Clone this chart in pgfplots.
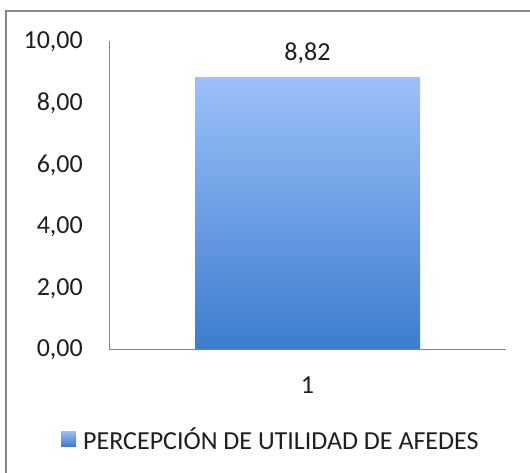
\documentclass[border=0pt]{standalone}
\usepackage{fontspec}
\setmainfont{Carlito}
\usepackage{pgfplots}
\pgfplotsset{compat=1.18}
\definecolor{bartop}{RGB}{156,193,251}
\definecolor{barbot}{RGB}{60,124,205}
\definecolor{axgray}{RGB}{134,134,134}
\definecolor{frame}{RGB}{135,135,135}
\definecolor{txt}{RGB}{30,30,30}
\newcommand{\bigf}{\fontsize{26bp}{30bp}\selectfont}
\begin{document}
\begin{tikzpicture}
\path[use as bounding box] (0,0) rectangle (530bp,473bp);
\draw[frame, line width=1.6bp] (6bp,-2bp) -- (6bp,462bp) -- (532bp,462bp);
\begin{axis}[
  at={(109bp,124bp)}, anchor=south west,
  scale only axis, width=397bp, height=308bp,
  xmin=0.5, xmax=1.5, ymin=0, ymax=10,
  axis x line=bottom, axis y line=left,
  axis line style={-, axgray, line width=0.8bp},
  major tick length=0pt,
  xtick={1}, xticklabels={1},
  ytick={0,2,4,6,8,10},
  /pgf/number format/.cd, fixed, fixed zerofill, precision=2, use comma, assume math mode=true, 1000 sep={},
  /pgfplots/.cd,
  ticklabel style={font=\bigf, text=txt, inner sep=0pt},
  yticklabel style={anchor=base east, xshift=-26bp, yshift=-8bp},
  xticklabel style={anchor=base, yshift=-44bp},
  ybar, bar width=225bp,
  nodes near coords,
  every node near coord/.append style={font=\bigf, text=txt, inner sep=0pt, anchor=base, yshift=16.6bp},
  legend style={draw=none, fill=none, inner sep=0pt, font=\bigf, text=txt,
    at={(-0.1209,-0.288)}, anchor=west, nodes={inner sep=0pt}},
  legend image code/.code={
    \fill[top color=bartop, bottom color=barbot, draw=none] (0bp,-6.3bp) rectangle (15bp,8.7bp);
    \path (22bp,0bp);
    \path (0bp,15.7bp);
  },
]
\addplot[draw=none, top color=bartop, bottom color=barbot] coordinates {(1,8.82)};
\addlegendentry{PERCEPCIÓN DE UTILIDAD DE AFEDES}
\end{axis}
\end{tikzpicture}
\end{document}
